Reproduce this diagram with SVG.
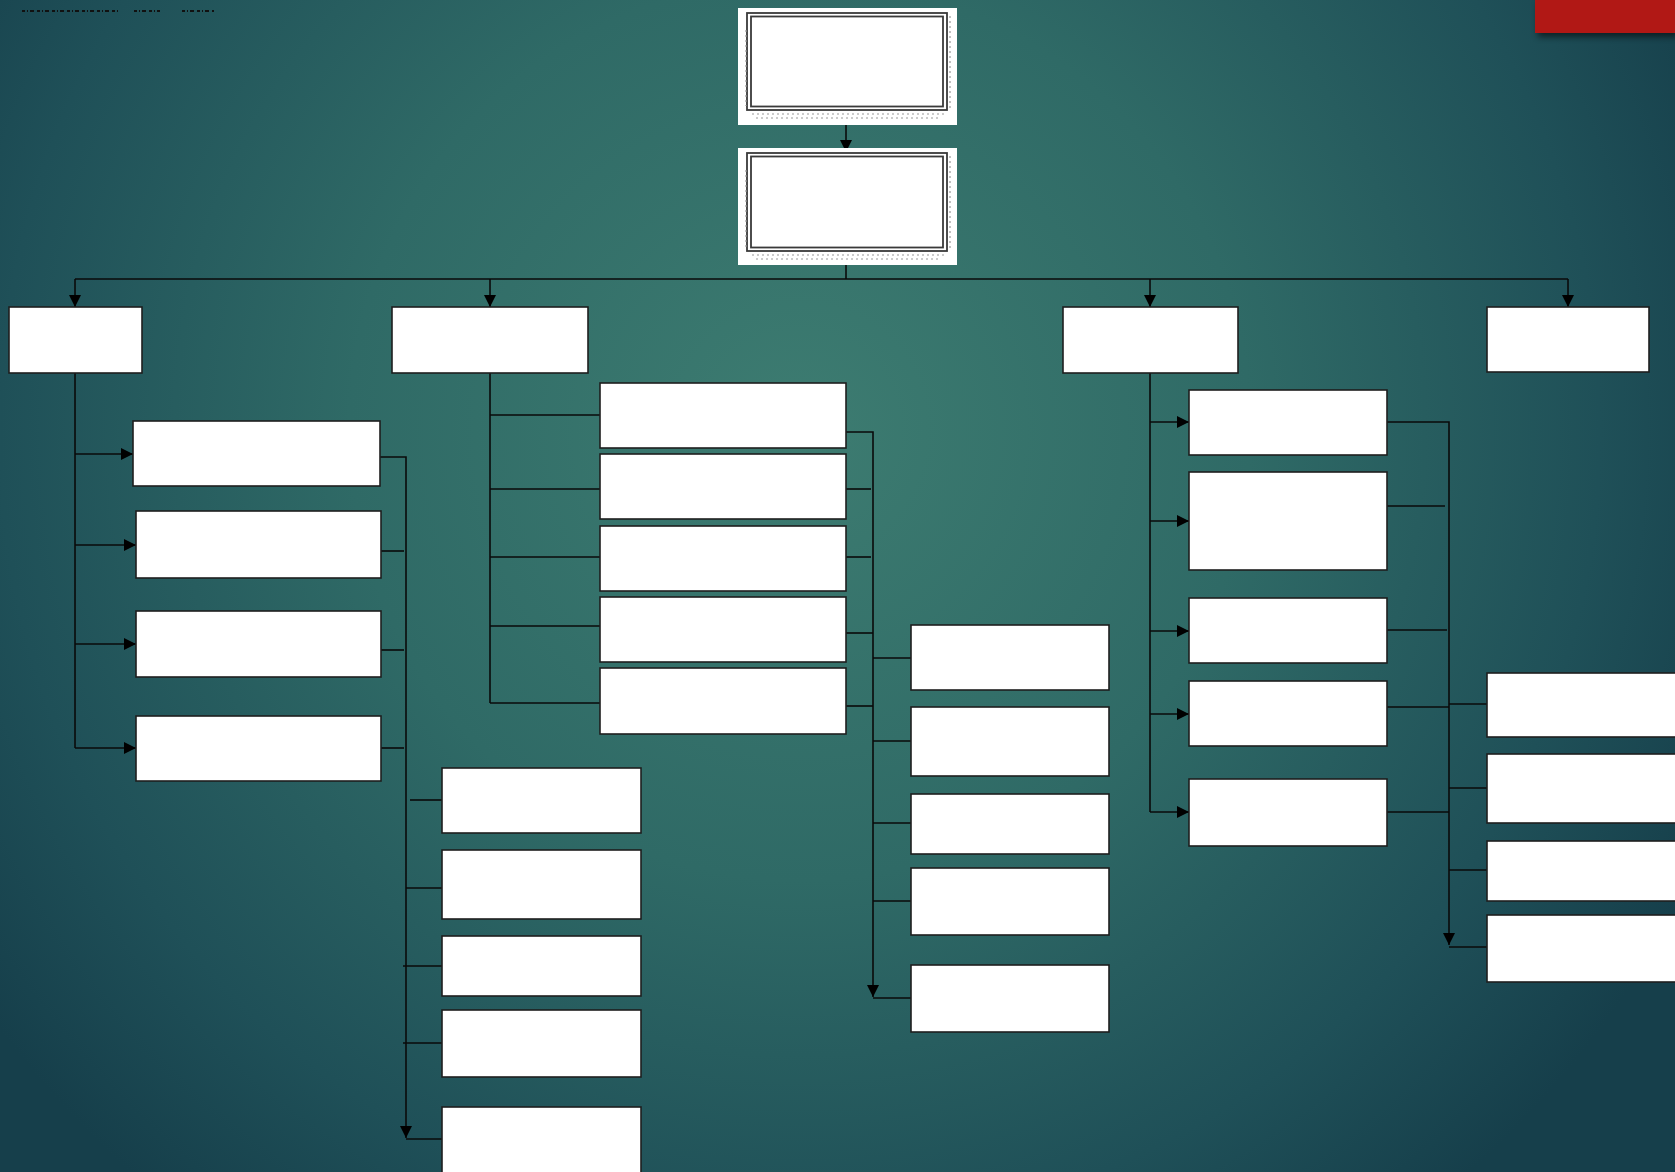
<svg xmlns="http://www.w3.org/2000/svg" width="1675" height="1172" viewBox="0 0 1675 1172">
  <defs>
    <radialGradient id="bg" gradientUnits="userSpaceOnUse" cx="800" cy="430" r="1000">
      <stop offset="0" stop-color="#3d7c71"/>
      <stop offset="0.45" stop-color="#2f6a66"/>
      <stop offset="0.8" stop-color="#1f5058"/>
      <stop offset="1" stop-color="#163f4b"/>
    </radialGradient>
    <marker id="arr" viewBox="0 0 10 10" refX="10" refY="5" markerWidth="12" markerHeight="12" markerUnits="userSpaceOnUse" orient="auto">
      <path d="M0,0 L10,5 L0,10 z" fill="#000"/>
    </marker>
    <filter id="shadow" x="-20%" y="-50%" width="140%" height="220%">
      <feGaussianBlur stdDeviation="3"/>
    </filter>
    <style>
      .box { fill: #ffffff; stroke: #1e1e1e; stroke-width: 1.6; }
      .panel { fill: #ffffff; }
      .dbl { fill: none; stroke: #3a3a3a; stroke-width: 1.8; }
      .tick { fill: none; stroke: #9a9a9a; stroke-width: 1.2; stroke-dasharray: 2 3; }
      .ln { fill: none; stroke: #0a0a0a; stroke-width: 1.6; }
      .ar { fill: none; stroke: #0a0a0a; stroke-width: 1.6; marker-end: url(#arr); }
    </style>
  </defs>

  <rect x="0" y="0" width="1675" height="1172" fill="url(#bg)"/>

  <!-- garbled header marks -->
  <path d="M22,11 H118 M134,11 H160 M182,11 H214" fill="none" stroke="#111" stroke-width="2.2" stroke-dasharray="3 2 1 2 4 3"/>

  <!-- red corner band -->
  <rect x="1538" y="3" width="140" height="34" fill="#000" opacity="0.55" filter="url(#shadow)"/>
  <rect x="1535" y="0" width="140" height="33" fill="#b11815"/>

  <g id="connectors">
    <path class="ar" d="M846,110 V152"/>
    <path class="ln" d="M846,251 V279"/>
    <path class="ln" d="M75,279 H1568"/>
    <path class="ar" d="M75,279 V307"/>
    <path class="ar" d="M490,279 V307"/>
    <path class="ar" d="M1150,279 V307"/>
    <path class="ar" d="M1568,279 V307"/>

    <!-- column A -->
    <path class="ln" d="M75,373 V748"/>
    <path class="ar" d="M75,454 H133"/>
    <path class="ar" d="M75,545 H136"/>
    <path class="ar" d="M75,644 H136"/>
    <path class="ar" d="M75,748 H136"/>
    <path class="ar" d="M380,457 H406 V1138"/>
    <path class="ln" d="M381,551 H404"/>
    <path class="ln" d="M381,650 H404"/>
    <path class="ln" d="M381,748 H404"/>
    <path class="ln" d="M410,800 H442"/>
    <path class="ln" d="M406,888 H446"/>
    <path class="ln" d="M403,966 H442"/>
    <path class="ln" d="M403,1043 H442"/>
    <path class="ln" d="M406,1139 H442"/>

    <!-- column B -->
    <path class="ln" d="M490,373 V703"/>
    <path class="ln" d="M490,415 H600"/>
    <path class="ln" d="M490,489 H600"/>
    <path class="ln" d="M490,557 H600"/>
    <path class="ln" d="M490,626 H600"/>
    <path class="ln" d="M490,703 H600"/>
    <path class="ar" d="M846,432 H873 V997"/>
    <path class="ln" d="M846,489 H871"/>
    <path class="ln" d="M846,557 H871"/>
    <path class="ln" d="M846,633 H873"/>
    <path class="ln" d="M846,706 H873"/>
    <path class="ln" d="M873,658 H911"/>
    <path class="ln" d="M873,741 H911"/>
    <path class="ln" d="M873,823 H911"/>
    <path class="ln" d="M873,901 H911"/>
    <path class="ln" d="M873,998 H911"/>

    <!-- column C -->
    <path class="ln" d="M1150,373 V812"/>
    <path class="ar" d="M1150,422 H1189"/>
    <path class="ar" d="M1150,521 H1189"/>
    <path class="ar" d="M1150,631 H1189"/>
    <path class="ar" d="M1150,714 H1189"/>
    <path class="ar" d="M1150,812 H1189"/>
    <path class="ar" d="M1387,422 H1449 V945"/>
    <path class="ln" d="M1387,506 H1445"/>
    <path class="ln" d="M1387,630 H1447"/>
    <path class="ln" d="M1387,707 H1449"/>
    <path class="ln" d="M1387,812 H1449"/>
    <path class="ln" d="M1449,704 H1487"/>
    <path class="ln" d="M1449,788 H1487"/>
    <path class="ln" d="M1449,870 H1487"/>
    <path class="ln" d="M1449,947 H1487"/>
  </g>

  <g id="top1">
    <rect class="panel" x="738" y="8" width="219" height="117"/>
    <rect class="dbl" x="747" y="13" width="200" height="97"/>
    <rect class="dbl" x="751" y="16.5" width="192" height="90"/>
    <path class="tick" d="M950,16 V108 M746,30 V106 M752,114 H944 M756,118 H940"/>
  </g>
  <g id="top2">
    <rect class="panel" x="738" y="148" width="219" height="117"/>
    <rect class="dbl" x="747" y="153" width="200" height="98"/>
    <rect class="dbl" x="751" y="156.5" width="192" height="91"/>
    <path class="tick" d="M950,156 V249 M746,170 V247 M752,255 H944 M756,259 H940"/>
  </g>

  <g id="nA"><rect class="box" x="9" y="307" width="133" height="66"/></g>
  <g id="nB"><rect class="box" x="392" y="307" width="196" height="66"/></g>
  <g id="nC"><rect class="box" x="1063" y="307" width="175" height="66"/></g>
  <g id="nD"><rect class="box" x="1487" y="307" width="162" height="65"/></g>

  <g id="nA1"><rect class="box" x="133" y="421" width="247" height="65"/></g>
  <g id="nA2"><rect class="box" x="136" y="511" width="245" height="67"/></g>
  <g id="nA3"><rect class="box" x="136" y="611" width="245" height="66"/></g>
  <g id="nA4"><rect class="box" x="136" y="716" width="245" height="65"/></g>

  <g id="nE1"><rect class="box" x="442" y="768" width="199" height="65"/></g>
  <g id="nE2"><rect class="box" x="442" y="850" width="199" height="69"/></g>
  <g id="nE3"><rect class="box" x="442" y="936" width="199" height="60"/></g>
  <g id="nE4"><rect class="box" x="442" y="1010" width="199" height="67"/></g>
  <g id="nE5"><rect class="box" x="442" y="1107" width="199" height="80"/></g>

  <g id="nB1"><rect class="box" x="600" y="383" width="246" height="65"/></g>
  <g id="nB2"><rect class="box" x="600" y="454" width="246" height="65"/></g>
  <g id="nB3"><rect class="box" x="600" y="526" width="246" height="65"/></g>
  <g id="nB4"><rect class="box" x="600" y="597" width="246" height="65"/></g>
  <g id="nB5"><rect class="box" x="600" y="668" width="246" height="66"/></g>

  <g id="nF1"><rect class="box" x="911" y="625" width="198" height="65"/></g>
  <g id="nF2"><rect class="box" x="911" y="707" width="198" height="69"/></g>
  <g id="nF3"><rect class="box" x="911" y="794" width="198" height="60"/></g>
  <g id="nF4"><rect class="box" x="911" y="868" width="198" height="67"/></g>
  <g id="nF5"><rect class="box" x="911" y="965" width="198" height="67"/></g>

  <g id="nC1"><rect class="box" x="1189" y="390" width="198" height="65"/></g>
  <g id="nC2"><rect class="box" x="1189" y="472" width="198" height="98"/></g>
  <g id="nC3"><rect class="box" x="1189" y="598" width="198" height="65"/></g>
  <g id="nC4"><rect class="box" x="1189" y="681" width="198" height="65"/></g>
  <g id="nC5"><rect class="box" x="1189" y="779" width="198" height="67"/></g>

  <g id="nG1"><rect class="box" x="1487" y="673" width="200" height="64"/></g>
  <g id="nG2"><rect class="box" x="1487" y="754" width="200" height="69"/></g>
  <g id="nG3"><rect class="box" x="1487" y="841" width="200" height="60"/></g>
  <g id="nG4"><rect class="box" x="1487" y="915" width="200" height="67"/></g>
</svg>
